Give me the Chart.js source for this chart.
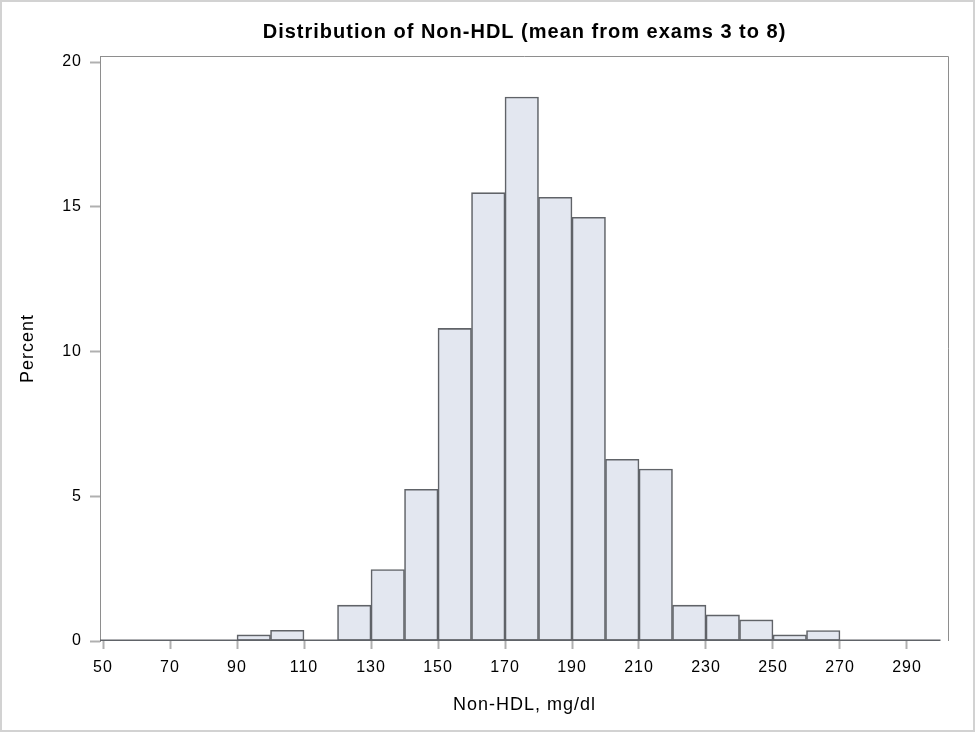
<!DOCTYPE html>
<html>
<head>
<meta charset="utf-8">
<script src="https://cdn.jsdelivr.net/npm/chart.js@4"></script>
<style>
  html, body { margin: 0; padding: 0; background: #fff; }
  canvas { display: block; }
</style>
</head>
<body>
<canvas id="c" width="975" height="732"></canvas>
<script>
// ---- data ----
const binStarts = [50, 60, 70, 80, 90, 100, 110, 120, 130, 140, 150, 160, 170, 180, 190, 200, 210, 220, 230, 240, 250, 260, 270, 280, 290];
const binWidth = 10;
const percentValues = [0, 0, 0, 0, 0.21, 0.37, 0, 1.24, 2.47, 5.24, 10.80, 15.49, 18.79, 15.33, 14.64, 6.28, 5.94, 1.24, 0.90, 0.73, 0.21, 0.36, 0, 0, 0];
const xTickValues = [50, 70, 90, 110, 130, 150, 170, 190, 210, 230, 250, 270, 290];
const yTickValues = [0, 5, 10, 15, 20];
const titleText = 'Distribution of Non-HDL (mean from exams 3 to 8)';
const xTitle = 'Non-HDL, mg/dl';
const yTitle = 'Percent';

const barData = binStarts.map((s, i) => ({ x: s + binWidth / 2, y: percentValues[i] }));

const FONT = 'Liberation Sans, Arial, Helvetica, sans-serif';
const BAR_FILL = '#e3e7f0';
const BAR_BORDER = '#606368';
const FRAME = '#8e8e8e';
const TICK = '#b0b0b0';

function setSpacing(chart) { chart.ctx.letterSpacing = '1px'; }

const framePlugin = {
  id: 'frame',
  beforeUpdate: setSpacing,
  beforeLayout: setSpacing,
  beforeDraw: setSpacing,
  afterDatasetsDraw(chart) {
    const { ctx, chartArea: a, scales } = chart;
    const x = scales.x, y = scales.y;
    ctx.save();
    ctx.strokeStyle = BAR_BORDER;
    ctx.lineWidth = 1.5;
    const y0 = y.getPixelForValue(0) - 0.75;
    ctx.beginPath();
    ctx.moveTo(a.left, y0);
    ctx.lineTo(x.getPixelForValue(binStarts[binStarts.length - 1] + binWidth), y0);
    ctx.stroke();
    ctx.strokeStyle = FRAME;
    ctx.lineWidth = 1;
    ctx.beginPath();
    ctx.moveTo(a.left, a.top + 0.5);
    ctx.lineTo(a.right - 0.5, a.top + 0.5);
    ctx.lineTo(a.right - 0.5, a.bottom);
    ctx.stroke();
    ctx.restore();
  },
  afterDraw(chart) {
    const { ctx, width, height } = chart;
    ctx.save();
    ctx.strokeStyle = '#d2d2d2';
    ctx.lineWidth = 2;
    ctx.strokeRect(1, 1, width - 2, height - 2);
    ctx.restore();
  }
};

new Chart(document.getElementById('c'), {
  type: 'bar',
  data: {
    datasets: [{
      data: barData,
      backgroundColor: BAR_FILL,
      borderColor: BAR_BORDER,
      borderWidth: 1.6,
      borderSkipped: false,
      barPercentage: 1,
      categoryPercentage: 1
    }]
  },
  options: {
    responsive: false,
    animation: false,
    devicePixelRatio: 1,
    layout: { padding: { left: 0, right: 26, top: 0, bottom: 0 } },
    plugins: {
      legend: { display: false },
      tooltip: { enabled: false },
      title: {
        display: true,
        fullSize: false,
        text: titleText,
        color: '#000',
        font: { family: FONT, size: 20, weight: 'bold', lineHeight: 1.2 },
        padding: { top: 20, bottom: 12 }
      }
    },
    scales: {
      x: {
        type: 'linear',
        offset: false,
        min: 49.1,
        max: 302.54,
        afterBuildTicks(scale) { scale.ticks = xTickValues.map(v => ({ value: v })); },
        afterFit(scale) { scale.height = 91; },
        grid: { display: true, offset: false, drawOnChartArea: false, drawTicks: true, tickLength: 8, tickColor: TICK, tickWidth: 2 },
        border: { display: false },
        ticks: { color: '#000', font: { family: FONT, size: 16 }, padding: 9, maxRotation: 0, autoSkip: false },
        title: { display: true, text: xTitle, color: '#000', font: { family: FONT, size: 18, lineHeight: 1.2 }, padding: { top: 0, bottom: 16 } }
      },
      y: {
        type: 'linear',
        min: 0,
        max: 20.21,
        afterBuildTicks(scale) { scale.ticks = yTickValues.map(v => ({ value: v })); },
        afterFit(scale) { scale.width = 100; },
        grid: { display: true, drawOnChartArea: false, drawTicks: true, tickLength: 10, tickColor: TICK, tickWidth: 2 },
        border: { display: true, color: FRAME, width: 1 },
        ticks: { color: '#000', font: { family: FONT, size: 16 }, padding: 8 },
        title: { display: true, text: yTitle, color: '#000', font: { family: FONT, size: 18, lineHeight: 1.2 }, padding: { top: 17, bottom: 0 } }
      }
    }
  },
  plugins: [framePlugin]
});
</script>
</body>
</html>
